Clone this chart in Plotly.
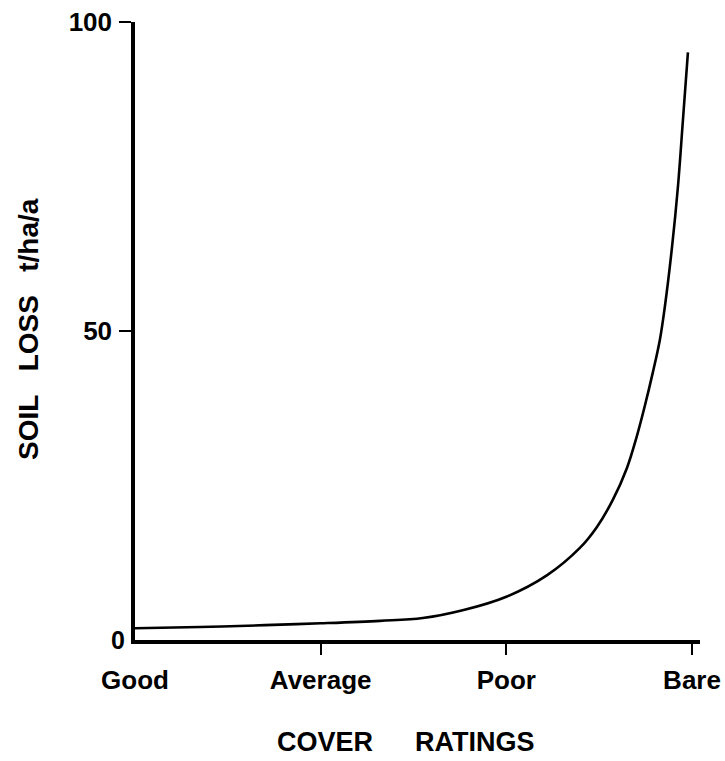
import plotly.graph_objects as go

# Data
cover_pos = [0, 0.35, 0.7, 1.0, 1.32, 1.55, 1.77, 2.0, 2.22, 2.396, 2.488,
             2.574, 2.649, 2.703, 2.746, 2.789, 2.827, 2.854, 2.892, 2.924,
             2.951, 2.978]
soil_loss = [1.9, 2.1, 2.4, 2.7, 3.1, 3.55, 4.85, 7.0, 10.5, 14.9, 18.3,
             22.7, 27.8, 33.0, 37.9, 43.3, 48.6, 54.0, 63.5, 73.3,
             84.1, 95.1]
x_tickvals = [0, 1, 2, 3]
x_ticklabels = ["Good", "Average", "Poor", "Bare"]
x_tickmarks = [1, 2, 3]
y_tickvals = [50, 100]

FONT = "Liberation Sans, Arial, Helvetica, sans-serif"
NB = "\u00a0"

fig = go.Figure()
fig.add_trace(go.Scatter(
    x=cover_pos, y=soil_loss, mode="lines",
    line=dict(color="black", width=2.6, shape="spline", smoothing=1.0),
    showlegend=False, hoverinfo="skip"))
# helper trace so the tick-mark axis gets drawn
fig.add_trace(go.Scatter(x=[None], y=[None], xaxis="x2", showlegend=False,
                         hoverinfo="skip"))

W, H = 725, 761
l, r, t, b = 135, 25, 22, 121
x_range = [0, 3.043]

fig.update_layout(
    width=W, height=H,
    margin=dict(l=l, r=r, t=t, b=b, autoexpand=False),
    paper_bgcolor="white", plot_bgcolor="white",
    font=dict(family=FONT, color="black"),
    xaxis=dict(range=x_range, tickvals=x_tickvals, ticktext=x_ticklabels,
               ticks="", showgrid=False, zeroline=False,
               showline=True, linecolor="black", linewidth=3.5,
               tickfont=dict(family=FONT, size=26, weight="bold"),
               ticklabelstandoff=14, ticklabeloverflow="allow",
               automargin=False),
    xaxis2=dict(range=x_range, overlaying="x", anchor="y", side="bottom",
                tickvals=x_tickmarks, ticks="outside", ticklen=14,
                tickwidth=2, tickcolor="black", showticklabels=False,
                showgrid=False, zeroline=False, showline=False),
    yaxis=dict(range=[0, 100], tickvals=y_tickvals, ticks="outside",
               ticklen=12, tickwidth=2, tickcolor="black",
               showgrid=False, zeroline=False,
               showline=True, linecolor="black", linewidth=3.5,
               tickfont=dict(family=FONT, size=26, weight="bold"),
               ticklabelstandoff=2, automargin=False),
)

annotations = [
    dict(text="0", x=0, y=0, xref="x", yref="y", xanchor="right",
         yanchor="middle", xshift=-8, showarrow=False,
         font=dict(family=FONT, size=25, weight="bold")),
    dict(text="COVER", x=325, y=742, showarrow=False,
         font=dict(family=FONT, size=27, weight="bold")),
    dict(text="RATINGS", x=475, y=742, showarrow=False,
         font=dict(family=FONT, size=27, weight="bold")),
    dict(text="SOIL" + NB * 3 + "LOSS" + NB * 3 + "t/ha/a", x=28, y=329,
         showarrow=False, textangle=-90,
         font=dict(family=FONT, size=28, weight="bold")),
]
# convert pixel positions for paper annotations
pw, ph = W - l - r, H - t - b
for a in annotations[1:]:
    px, py = a["x"], a["y"]
    a["x"] = (px - l) / pw
    a["y"] = (H - b - py) / ph
    a["xref"] = "paper"
    a["yref"] = "paper"
    a["xanchor"] = "center"
    a["yanchor"] = "middle"
fig.update_layout(annotations=annotations)

fig.write_html("out.html", config={"displayModeBar": False},
               post_script="document.body.style.margin='0';"
                           "document.body.style.overflow='hidden';")
